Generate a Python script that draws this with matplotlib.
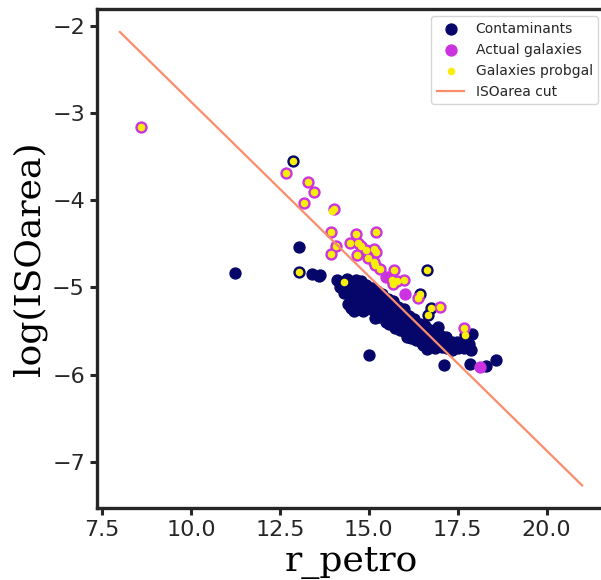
import matplotlib
matplotlib.use("Agg")
import matplotlib.pyplot as plt
import numpy as np

# objects flagged as contaminants
contam_x = [11.25, 12.87, 13.03, 13.05, 13.40, 13.61, 13.63, 14.29, 15.02, 16.63,
            17.13, 17.86, 18.30, 18.58, 17.90, 17.70, 16.76, 16.66, 16.65, 16.45,
            14.12, 14.22, 14.20, 14.34, 14.38, 14.31,
            14.47, 14.52, 14.45, 14.55, 14.50,
            14.63, 14.68, 14.61, 14.70, 14.66,
            14.78, 14.83, 14.80, 14.76, 14.85,
            14.93, 14.98, 14.95, 15.00, 14.91,
            15.08, 15.12, 15.10, 15.06, 15.13,
            15.23, 15.28, 15.25, 15.22, 15.29,
            15.38, 15.42, 15.40, 15.37, 15.44,
            15.53, 15.57, 15.55, 15.52, 15.58,
            15.68, 15.72, 15.70, 15.67, 15.73,
            15.83, 15.87, 15.85, 15.82, 15.88,
            15.98, 16.02, 16.00, 15.97, 16.03,
            16.13, 16.17, 16.15, 16.12, 16.18,
            16.28, 16.32, 16.30, 16.27, 16.33,
            16.43, 16.47, 16.45, 16.42, 16.48,
            16.58, 16.62, 16.60, 16.57,
            16.73, 16.77, 16.75, 16.72,
            16.88, 16.92, 16.90, 16.87,
            17.03, 17.07, 17.05,
            17.18, 17.22, 17.20,
            17.33, 17.37, 17.35,
            17.48, 17.52,
            17.63, 17.67,
            17.83, 17.87,
            14.42, 14.58, 15.18, 15.48, 16.08, 16.52, 16.95]
contam_y = [-4.83, -3.55, -4.54, -4.82, -4.84, -4.87, -4.86, -4.94, -5.78, -5.71,
            -5.89, -5.88, -5.90, -5.83, -5.53, -5.55, -5.24, -5.32, -4.80, -5.07,
            -4.91, -4.95, -5.00, -4.93, -4.90, -5.06,
            -4.93, -5.01, -5.09, -5.14, -5.23,
            -4.92, -5.03, -5.11, -5.16, -5.20,
            -4.93, -5.05, -5.12, -5.19, -5.27,
            -4.97, -5.04, -5.14, -5.21, -5.25,
            -5.01, -5.07, -5.16, -5.23, -5.26,
            -5.04, -5.09, -5.18, -5.27, -5.34,
            -5.07, -5.16, -5.21, -5.30, -5.33,
            -5.13, -5.18, -5.27, -5.34, -5.42,
            -5.15, -5.24, -5.29, -5.38, -5.46,
            -5.22, -5.27, -5.36, -5.41, -5.49,
            -5.25, -5.34, -5.39, -5.47, -5.51,
            -5.33, -5.38, -5.46, -5.50, -5.58,
            -5.36, -5.44, -5.48, -5.56, -5.60,
            -5.42, -5.46, -5.54, -5.58, -5.63,
            -5.44, -5.52, -5.56, -5.63,
            -5.49, -5.53, -5.61, -5.64,
            -5.50, -5.58, -5.62, -5.69,
            -5.56, -5.60, -5.68,
            -5.57, -5.65, -5.69,
            -5.62, -5.65, -5.72,
            -5.62, -5.70,
            -5.66, -5.70,
            -5.65, -5.72,
            -5.19, -5.27, -5.35, -5.40, -5.57, -5.66, -5.45]

# spectroscopically confirmed galaxies
gal_x = [8.60, 12.68, 13.30, 13.46, 13.18, 14.03, 13.93, 14.09, 13.93, 14.47,
         14.64, 15.20, 14.69, 14.78, 14.92, 15.16, 15.21, 14.66, 14.99, 15.16,
         15.17, 15.32, 15.72, 15.48, 15.66, 15.80, 15.98, 15.68, 16.03, 16.39,
         17.01, 17.67, 18.14]
gal_y = [-3.16, -3.69, -3.79, -3.90, -4.03, -4.10, -4.36, -4.53, -4.62, -4.49,
         -4.39, -4.36, -4.49, -4.53, -4.57, -4.56, -4.59, -4.63, -4.66, -4.71,
         -4.74, -4.79, -4.80, -4.88, -4.92, -4.93, -4.91, -4.96, -5.08, -5.12,
         -5.22, -5.46, -5.91]

# objects passing the probgal selection
prob_x = [8.60, 12.68, 13.30, 13.46, 13.18, 14.03, 13.96, 13.93, 14.09, 13.93,
          14.47, 14.64, 15.20, 14.69, 14.78, 14.92, 15.16, 15.21, 14.66, 14.99,
          15.16, 15.17, 15.32, 15.72, 15.66, 15.80, 15.98, 15.68, 16.39, 17.01,
          17.67, 12.87, 13.05, 14.29, 16.65, 16.45, 16.76, 16.66, 17.70]
prob_y = [-3.16, -3.69, -3.79, -3.90, -4.03, -4.10, -4.12, -4.36, -4.53, -4.62,
          -4.49, -4.39, -4.36, -4.49, -4.53, -4.57, -4.56, -4.59, -4.63, -4.66,
          -4.71, -4.74, -4.79, -4.80, -4.92, -4.93, -4.91, -4.96, -5.12, -5.22,
          -5.46, -3.55, -4.82, -4.94, -4.80, -5.07, -5.24, -5.32, -5.55]

# linear cut in log(ISOarea) vs r_petro
cut_slope = -0.4
cut_intercept = 1.13
cut_range = [8, 21]

fig = plt.figure(figsize=(6.01, 5.80), dpi=100)
ax = fig.add_axes([0.161, 0.124, 0.846, 0.860])

ax.scatter(contam_x, contam_y, s=62, color="#05056a", label="Contaminants")
ax.scatter(gal_x, gal_y, s=62, color="#cc33e0", label="Actual galaxies")
ax.scatter(prob_x, prob_y, s=20, color="#f8ee0a", label="Galaxies probgal")

cx = np.array(cut_range)
ax.plot(cx, cut_slope * cx + cut_intercept, color="#fa8c6c", lw=1.6,
        label="ISOarea cut")

ax.set_xlabel("r_petro", family="DejaVu Serif", fontsize=26)
ax.set_ylabel("log(ISOarea)", family="DejaVu Serif", fontsize=26)

for s in ax.spines.values():
    s.set_linewidth(2.4)
    s.set_color("#262626")
ax.tick_params(labelsize=16, colors="#262626", length=5, width=2.2)

ax.legend(loc="upper right", fontsize=10, labelcolor="#262626")

fig.savefig("out.png", dpi=100)
